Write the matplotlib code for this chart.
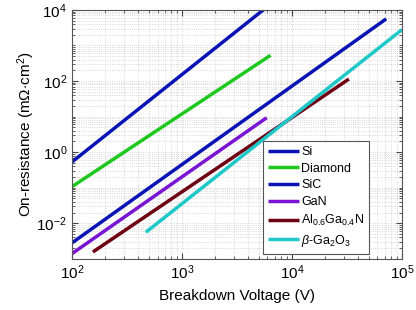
import matplotlib
matplotlib.use('Agg')
import matplotlib.pyplot as plt
import numpy as np

plt.rcParams['font.family'] = ['Liberation Sans', 'DejaVu Sans']
plt.rcParams['mathtext.fontset'] = 'custom'
plt.rcParams['mathtext.rm'] = 'Liberation Sans'
plt.rcParams['mathtext.it'] = 'Liberation Sans:italic'

# breakdown voltage (V) and on-resistance (mOhm cm^2) end points of each material
labels = ['Si', 'Diamond', 'SiC', 'GaN',
          r'Al$_{0.6}$Ga$_{0.4}$N', r'$\beta$-Ga$_2$O$_3$']
v_si, r_si = [100, 5600], [0.53, 1.05e4]
v_dia, r_dia = [100, 6400], [0.107, 530]
v_sic, r_sic = [100, 72000], [2.8e-3, 5600]
v_gan, r_gan = [100, 5900], [1.4e-3, 9.3]
v_algan, r_algan = [155, 33000], [1.56e-3, 114]
v_ga2o3, r_ga2o3 = [470, 100000], [5.6e-3, 2770]

volts = [v_si, v_dia, v_sic, v_gan, v_algan, v_ga2o3]
res = [r_si, r_dia, r_sic, r_gan, r_algan, r_ga2o3]
colors = ['#0a14b4', '#1ec81e', '#0a14b4', '#7814d2', '#6e0014', '#1ec8c8']

fig = plt.figure(figsize=(4.16, 3.10), dpi=100)
ax = fig.add_axes([0.173, 0.165, 0.793, 0.803])

for v, r, c, lab in zip(volts, res, colors, labels):
    ax.plot(v, r, color=c, lw=2.5, label=lab, solid_capstyle='butt')

ax.set_xscale('log')
ax.set_yscale('log')
ax.set_xlim(1e2, 1e5)
ax.set_ylim(1e-3, 1e4)
ax.set_yticks([1e-2, 1e0, 1e2, 1e4])
ax.yaxis.set_minor_locator(matplotlib.ticker.LogLocator(base=10, subs=np.arange(1, 10), numticks=20))
ax.yaxis.set_minor_formatter(matplotlib.ticker.NullFormatter())
ax.tick_params(which='both', direction='in', top=True, right=True,
               labelsize=11, color='#444444')
ax.tick_params(which='major', length=4)
ax.tick_params(which='minor', length=2)
ax.grid(which='both', linestyle=':', color='#cccccc', lw=0.6)
for s in ax.spines.values():
    s.set_color('#555555')
    s.set_linewidth(0.8)

ax.set_xlabel('Breakdown Voltage (V)', fontsize=11, labelpad=5)
ax.set_ylabel(r'On-resistance (m$\Omega$$\cdot$cm$^2$)', fontsize=11)
ax.yaxis.set_label_coords(-0.105, 0.5)

leg = ax.legend(loc='lower right', bbox_to_anchor=(0.92, -0.005), fontsize=9,
                handlelength=2.5, handletextpad=0.15, labelspacing=0.38,
                borderpad=0.4, fancybox=False, framealpha=1, edgecolor='#555555')
leg.get_frame().set_linewidth(0.8)

fig.savefig('out.png', dpi=100)
